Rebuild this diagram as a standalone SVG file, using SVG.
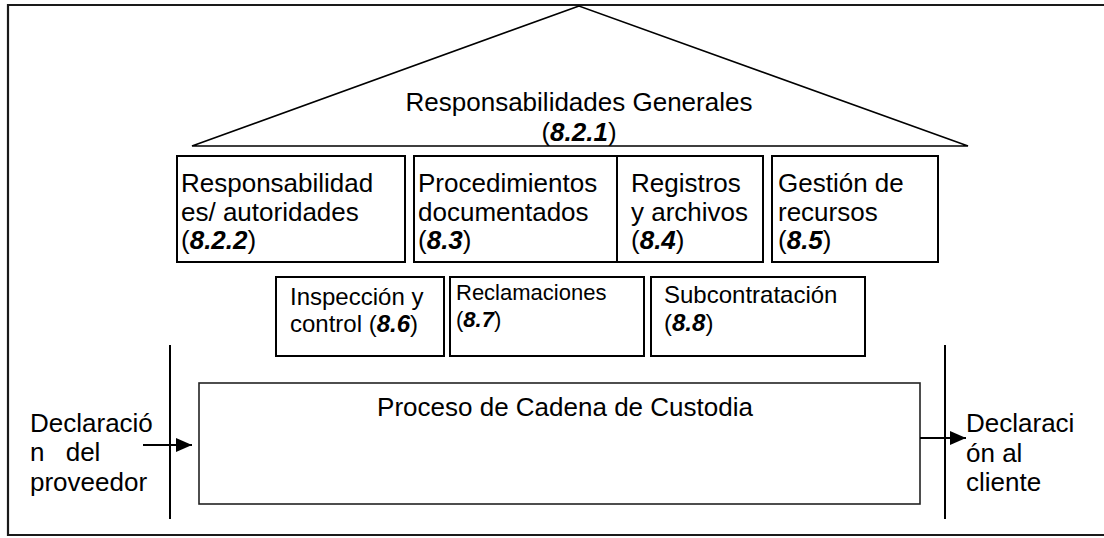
<svg xmlns="http://www.w3.org/2000/svg" width="1104" height="538" viewBox="0 0 1104 538">
  <defs>
    <style>
      .t { font-family: "Liberation Sans", Arial, sans-serif; font-size: 26px; fill: #000; }
      .s24 { font-size: 24px; }
      .s22 { font-size: 22px; }
      .bi { font-weight: bold; font-style: italic; }
      .box { fill: #fff; stroke: #000; stroke-width: 2; }
      .proc { fill: #fff; stroke: #222; stroke-width: 1.6; }
      .ln { stroke: #000; stroke-width: 2; fill: none; }
      .frame { fill: none; stroke: #1a1a1a; stroke-width: 2.2; }
    </style>
    <marker id="arrow" markerUnits="userSpaceOnUse" markerWidth="16" markerHeight="14" refX="16" refY="7" orient="auto">
      <path d="M0,0 L16,7 L0,14 z" fill="#000"/>
    </marker>
  </defs>
  <rect width="1104" height="538" fill="#fff"/>

  <g id="frame">
    <path class="frame" d="M1110,5 H8 V535 H1110"/>
  </g>

  <g id="roof">
    <polygon points="579,6 192,146 968,146" fill="#fff" stroke="#000" stroke-width="1.6"/>
    <text class="t" x="579" y="111" text-anchor="middle">Responsabilidades Generales</text>
    <text class="t" x="579" y="141" text-anchor="middle">(<tspan class="bi">8.2.1</tspan>)</text>
  </g>

  <g id="n-responsabilidades">
    <rect class="box" x="177" y="156" width="228" height="106"/>
    <text class="t" x="181" y="192">Responsabilidad</text>
    <text class="t" x="181" y="221">es/ autoridades</text>
    <text class="t" x="181" y="249">(<tspan class="bi">8.2.2</tspan>)</text>
  </g>

  <g id="n-procedimientos">
    <rect class="box" x="414" y="156" width="203" height="106"/>
    <text class="t" x="418" y="192">Procedimientos</text>
    <text class="t" x="418" y="221">documentados</text>
    <text class="t" x="418" y="249">(<tspan class="bi">8.3</tspan>)</text>
  </g>

  <g id="n-registros">
    <rect class="box" x="617" y="156" width="146" height="106"/>
    <text class="t" x="631" y="192">Registros</text>
    <text class="t" x="631" y="221">y archivos</text>
    <text class="t" x="631" y="249">(<tspan class="bi">8.4</tspan>)</text>
  </g>

  <g id="n-gestion">
    <rect class="box" x="772" y="156" width="166" height="106"/>
    <text class="t" x="778" y="192">Gestión de</text>
    <text class="t" x="778" y="221">recursos</text>
    <text class="t" x="778" y="249">(<tspan class="bi">8.5</tspan>)</text>
  </g>

  <g id="n-inspeccion">
    <rect class="box" x="276" y="277" width="168" height="79"/>
    <text class="t s24" x="290" y="305">Inspección y</text>
    <text class="t s24" x="290" y="332">control (<tspan class="bi">8.6</tspan>)</text>
  </g>

  <g id="n-reclamaciones">
    <rect class="box" x="450" y="277" width="194" height="79"/>
    <text class="t s22" x="456" y="300">Reclamaciones</text>
    <text class="t s22" x="456" y="327">(<tspan class="bi">8.7</tspan>)</text>
  </g>

  <g id="n-subcontratacion">
    <rect class="box" x="651" y="277" width="214" height="79"/>
    <text class="t s24" x="664" y="303">Subcontratación</text>
    <text class="t s24" x="664" y="331">(<tspan class="bi">8.8</tspan>)</text>
  </g>

  <g id="n-proceso">
    <rect class="proc" x="199" y="383" width="721" height="121"/>
    <text class="t" x="565" y="416" text-anchor="middle">Proceso de Cadena de Custodia</text>
  </g>

  <g id="n-entrada">
    <text class="t" x="30" y="432">Declaració</text>
    <text class="t" x="30" y="461" word-spacing="14">n del</text>
    <text class="t" x="30" y="491">proveedor</text>
  </g>

  <g id="n-salida">
    <text class="t" x="966" y="432">Declaraci</text>
    <text class="t" x="966" y="462">ón al</text>
    <text class="t" x="966" y="491">cliente</text>
  </g>

  <g id="connectors">
    <line class="ln" x1="170" y1="345" x2="170" y2="519"/>
    <line class="ln" x1="945" y1="345" x2="945" y2="519"/>
    <line class="ln" x1="143" y1="445" x2="192" y2="445" marker-end="url(#arrow)"/>
    <line class="ln" x1="920" y1="438" x2="966" y2="438" marker-end="url(#arrow)"/>
  </g>
</svg>
